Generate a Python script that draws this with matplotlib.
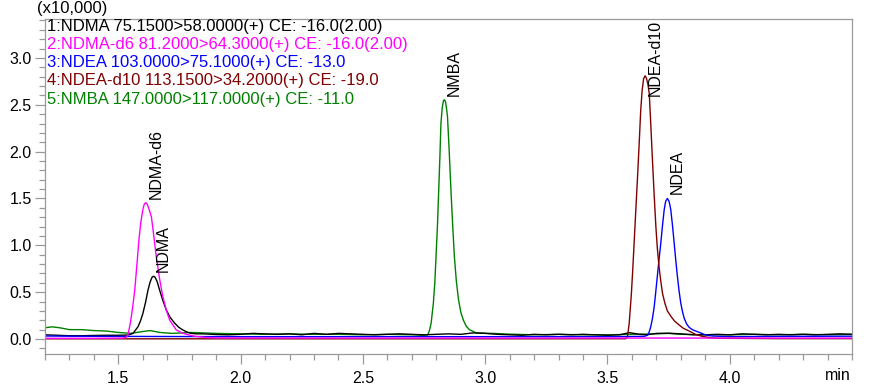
import matplotlib
matplotlib.use("Agg")
import matplotlib.pyplot as plt
from matplotlib.ticker import MultipleLocator, FixedLocator

plt.rcParams['font.family'] = ['Liberation Sans', 'DejaVu Sans']

# ---- data (time in min, intensity in x10,000) ----
black_t = [1.20, 1.25, 1.30, 1.35, 1.40, 1.45, 1.50, 1.539, 1.560, 1.580, 1.590, 1.600, 1.611,
           1.621, 1.630, 1.638, 1.644, 1.650, 1.659, 1.669, 1.682, 1.696, 1.712, 1.730, 1.747,
           1.764, 1.780, 1.798, 1.82, 1.85, 1.90, 1.95, 2.00, 2.05, 2.10, 2.15, 2.20,
           2.25, 2.30, 2.35, 2.40, 2.45, 2.50, 2.55, 2.60, 2.65, 2.70, 2.75, 2.80, 2.85, 2.90,
           2.95, 3.00, 3.05, 3.10, 3.15, 3.20, 3.25, 3.30, 3.35, 3.40, 3.45, 3.50, 3.55, 3.59,
           3.63, 3.66, 3.70, 3.75, 3.80, 3.85, 3.90, 3.95, 4.00, 4.05, 4.10, 4.15, 4.20, 4.25,
           4.30, 4.35, 4.40, 4.45, 4.50]
black_y = [0.045, 0.040, 0.035, 0.035, 0.038, 0.040, 0.040, 0.042, 0.060, 0.130, 0.190, 0.270, 0.390,
           0.520, 0.610, 0.660, 0.670, 0.660, 0.610, 0.520, 0.410, 0.310, 0.230, 0.170, 0.125,
           0.096, 0.075, 0.060, 0.055, 0.055, 0.048, 0.045, 0.050, 0.060, 0.055, 0.050, 0.055,
           0.045, 0.060, 0.050, 0.060, 0.055, 0.050, 0.045, 0.050, 0.055, 0.050, 0.045, 0.050, 0.055, 0.050,
           0.065, 0.060, 0.050, 0.045, 0.040, 0.050, 0.045, 0.050, 0.045, 0.050, 0.045, 0.040, 0.045, 0.068,
           0.050, 0.045, 0.060, 0.062, 0.055, 0.045, 0.045, 0.050, 0.045, 0.055, 0.050, 0.045, 0.050, 0.045,
           0.050, 0.045, 0.050, 0.055, 0.050]

magenta_t = [1.20, 1.40, 1.514, 1.530, 1.539, 1.549, 1.558, 1.567, 1.576, 1.584, 1.592, 1.600,
             1.606, 1.612, 1.618, 1.625, 1.635, 1.645, 1.655, 1.668, 1.682, 1.696, 1.710, 1.737,
             1.760, 1.778, 1.81, 1.85, 1.90, 2.50, 3.00, 3.50, 4.00, 4.50]
magenta_y = [0.008, 0.008, 0.010, 0.015, 0.040, 0.170, 0.330, 0.520, 0.800, 1.057, 1.250, 1.380,
             1.440, 1.455, 1.440, 1.390, 1.306, 1.100, 0.880, 0.650, 0.450, 0.310, 0.200, 0.096,
             0.065, 0.050, 0.030, 0.018, 0.012, 0.010, 0.010, 0.010, 0.010, 0.010]

blue_t = [1.20, 1.30, 1.50, 2.00, 2.50, 3.00, 3.50, 3.650, 3.664, 3.670, 3.677, 3.684, 3.691,
          3.697, 3.704, 3.711, 3.718, 3.725, 3.732, 3.738, 3.745, 3.752, 3.759, 3.766, 3.773,
          3.779, 3.786, 3.793, 3.800, 3.807, 3.814, 3.824, 3.834, 3.847, 3.861, 3.878, 3.895,
          3.912, 3.929, 4.00, 4.20, 4.50]
blue_y = [0.032, 0.030, 0.028, 0.025, 0.025, 0.025, 0.025, 0.028, 0.040, 0.070, 0.130, 0.220, 0.340,
          0.490, 0.670, 0.850, 1.020, 1.210, 1.380, 1.470, 1.500, 1.470, 1.380, 1.210, 1.020,
          0.850, 0.670, 0.510, 0.380, 0.290, 0.220, 0.160, 0.125, 0.100, 0.085, 0.068, 0.050,
          0.038, 0.032, 0.025, 0.028, 0.030]

red_t = [1.20, 2.00, 3.00, 3.575, 3.582, 3.589, 3.598, 3.603, 3.609, 3.616, 3.623, 3.630, 3.636,
         3.642, 3.648, 3.654, 3.660, 3.666, 3.671, 3.677, 3.684, 3.691, 3.698, 3.704, 3.711,
         3.718, 3.725, 3.735, 3.745, 3.760, 3.775, 3.793, 3.810, 3.834, 3.860, 3.888, 3.92,
         3.95, 4.20, 4.50]
red_y = [0.002, 0.002, 0.002, 0.003, 0.025, 0.170, 0.490, 0.720, 1.020, 1.380, 1.730, 2.100, 2.440,
         2.660, 2.780, 2.810, 2.780, 2.710, 2.620, 2.300, 1.910, 1.540, 1.200, 0.970, 0.770,
         0.620, 0.490, 0.380, 0.300, 0.240, 0.190, 0.150, 0.115, 0.085, 0.050, 0.028, 0.014,
         0.008, 0.004, 0.004]

green_t = [1.20, 1.23, 1.26, 1.30, 1.35, 1.40, 1.45, 1.50, 1.55, 1.60, 1.63, 1.67, 1.72, 1.80, 1.85,
           1.90, 2.00, 2.10, 2.20, 2.30, 2.40, 2.50, 2.60, 2.70, 2.745, 2.765, 2.772, 2.779, 2.788,
           2.794, 2.799, 2.805, 2.810, 2.815, 2.819, 2.824, 2.829, 2.833, 2.838, 2.842, 2.846,
           2.853, 2.860, 2.867, 2.874, 2.882, 2.891, 2.900, 2.911, 2.922, 2.935, 2.962, 3.00,
           3.05, 3.10, 3.20, 3.30, 3.40, 3.50, 3.60, 3.70, 3.75, 3.80, 3.90, 4.00, 4.10, 4.20,
           4.30, 4.40, 4.50]
green_y = [0.120, 0.130, 0.120, 0.100, 0.100, 0.090, 0.085, 0.070, 0.060, 0.080, 0.090, 0.070, 0.060, 0.070, 0.065,
           0.060, 0.055, 0.050, 0.055, 0.050, 0.050, 0.045, 0.050, 0.045, 0.040, 0.043, 0.090, 0.170, 0.380,
           0.600, 0.880, 1.220, 1.590, 1.960, 2.300, 2.460, 2.540, 2.555, 2.530, 2.460, 2.370,
           2.000, 1.590, 1.220, 0.880, 0.620, 0.420, 0.290, 0.200, 0.140, 0.100, 0.067, 0.062,
           0.058, 0.052, 0.045, 0.050, 0.045, 0.045, 0.050, 0.055, 0.060, 0.050, 0.045, 0.045, 0.050, 0.045,
           0.050, 0.045, 0.050]

legend_lines = ["1:NDMA 75.1500>58.0000(+) CE: -16.0(2.00)",
                "2:NDMA-d6 81.2000>64.3000(+) CE: -16.0(2.00)",
                "3:NDEA 103.0000>75.1000(+) CE: -13.0",
                "4:NDEA-d10 113.1500>34.2000(+) CE: -19.0",
                "5:NMBA 147.0000>117.0000(+) CE: -11.0"]
peak_names = ["NDMA", "NDMA-d6", "NDEA", "NDEA-d10", "NMBA"]
x_major = [1.5, 2.0, 2.5, 3.0, 3.5, 4.0]
y_major = [0.0, 0.5, 1.0, 1.5, 2.0, 2.5, 3.0]

colors = ["#000000", "#FF00FF", "#0000FF", "#800000", "#008000"]
traces = [(black_t, black_y), (magenta_t, magenta_y), (blue_t, blue_y),
          (red_t, red_y), (green_t, green_y)]

W, H = 883, 388
fig = plt.figure(figsize=(W / 100, H / 100), dpi=100)
ax = fig.add_axes([45 / W, 1 - 354 / H, (852 - 45) / W, (354 - 19) / H])

for z, i in enumerate([4, 0, 2, 3, 1]):
    t, y = traces[i]
    ax.plot(t, y, color=colors[i], lw=1.0, zorder=2 + z * 0.1)

YMAX = 3.416
ax.set_xlim(1.2, 4.5)
ax.set_ylim(-0.16, YMAX)

ax.xaxis.set_major_locator(FixedLocator(x_major))
ax.xaxis.set_minor_locator(MultipleLocator(0.1))
ax.yaxis.set_major_locator(FixedLocator(y_major))
ax.yaxis.set_minor_locator(MultipleLocator(0.1))
ax.set_xticklabels([f"{v:.1f}" for v in x_major])
ax.set_yticklabels([f"{v:.1f}" for v in y_major])

gray = "#9a9a9a"
for s in ax.spines.values():
    s.set_color(gray)
    s.set_linewidth(0.9)
ax.tick_params(which='both', direction='out', color=gray, labelsize=11.5, labelcolor='black')
ax.tick_params(which='major', length=7, width=0.9)
ax.tick_params(which='minor', length=4, width=0.9)
ax.tick_params(axis='x', which='both', pad=5.5)
ax.tick_params(axis='y', which='both', pad=2.5)

# peak labels (rotated, just above / right of each apex, kept inside the frame)
fig.canvas.draw()
renderer = fig.canvas.get_renderer()
inv = ax.transData.inverted()
top_px = ax.transData.transform((0, YMAX))[1] - 1
for i, name in enumerate(peak_names):
    t, y = traces[i]
    k = max(range(len(y)), key=lambda j: y[j])
    px, py = ax.transData.transform((t[k], y[k]))
    txt = ax.text(0, 0, name, rotation=90, fontsize=11.5, ha='center', va='bottom',
                  rotation_mode='anchor' if False else 'default')
    bb = txt.get_window_extent(renderer=renderer)
    by = min(py + 4, top_px - bb.height)
    dx, dy = inv.transform((px + 10, by))
    txt.set_position((dx, dy))

# header text
for i, line in enumerate(legend_lines):
    fig.text(47 / W, 1 - (26 + 18.3 * i) / H, line, color=colors[i], fontsize=12,
             ha='left', va='center')

fig.text(37 / W, 1 - 9 / H, "(x10,000)", fontsize=12, ha='left', va='center')
fig.text(838 / W, 1 - 376 / H, "min", fontsize=11.5, ha='center', va='center')

fig.savefig("out.png", dpi=100)
